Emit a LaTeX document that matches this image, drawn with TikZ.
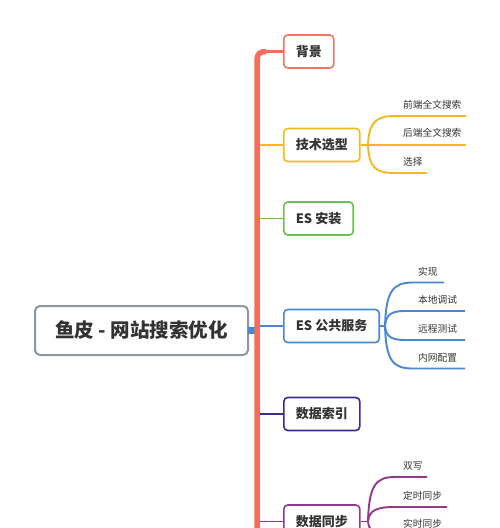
\documentclass[tikz,border=0pt]{standalone}
\usepackage{fontspec}
\setmainfont{Noto Sans CJK SC}
\definecolor{txt}{HTML}{333333}
\definecolor{trunkc}{HTML}{F46D5A}
\definecolor{cbg}{HTML}{F07565}
\definecolor{cjs}{HTML}{F5B823}
\definecolor{ces}{HTML}{6CC050}
\definecolor{cpub}{HTML}{4A87D2}
\definecolor{cidx}{HTML}{3A2E8C}
\definecolor{csync}{HTML}{8E3B8A}
\definecolor{rootc}{HTML}{8A96A3}
\tikzset{
  branchbox/.style={draw=#1, line width=1.6pt, rounded corners=4pt, fill=white,
    minimum height=33pt, inner xsep=12pt, inner ysep=0pt, anchor=west,
    font=\fontsize{13}{15}\selectfont\bfseries, text=txt},
  rootbox/.style={draw=rootc, line width=2pt, rounded corners=5pt, fill=white,
    minimum width=213pt, minimum height=49pt, inner sep=0pt,
    font=\fontsize{19.5}{23}\selectfont\bfseries, text=txt},
  leaf/.style={anchor=west, inner sep=0pt, font=\fontsize{9.7}{12}\selectfont, text=txt},
  conn/.style={draw=#1, line width=1.9pt},
}
\begin{document}
\begin{tikzpicture}[x=1pt,y=-1pt]
\useasboundingbox (0,0) rectangle (500,528);
\clip (0,0) rectangle (500,528);

% nodes
\node[rootbox] (root) at (141.5,330.5) {鱼皮 - 网站搜索优化};
\node[branchbox=cbg] (bg) at (283,51.5) {背景};
\node[branchbox=cjs] (js) at (283,145) {技术选型};
\node[branchbox=ces] (es) at (283,218.5) {ES 安装};
\node[branchbox=cpub] (pub) at (283,326) {ES 公共服务};
\node[branchbox=cidx] (idx) at (283,414) {数据索引};
\node[branchbox=csync] (sync) at (283,521.5) {数据同步};

% trunk coordinates
\coordinate (tbot) at (257,545);
\coordinate (ttop) at (257,60);
\coordinate (tcorner) at (266,51.5);
\coordinate (tjs) at (257,145);
\coordinate (tes) at (257,218.5);
\coordinate (tpub) at (257,326);
\coordinate (tidx) at (257,414);
\coordinate (tsync) at (257,521.5);

% branch connectors (under trunk)
\draw[conn=cjs] (tjs) -- (js.west);
\draw[conn=ces] (tes) -- (es.west);
\draw[conn=cpub] (tpub) -- (pub.west);
\draw[conn=cidx] (tidx) -- (idx.west);
\draw[conn=csync] (tsync) -- (sync.west);

% blue square at root
\coordinate (rsq) at (251,330);
\fill[cpub] (rsq) ++(-3.5,-3.5) rectangle ++(7,7);
\draw[conn=cpub] (root.east) -- (rsq);

% trunk
\draw[trunkc, line width=2.5pt] (tcorner) -- (bg.west);
\draw[trunkc, line width=5.5pt] (tbot) -- (ttop) .. controls (257,54) and (260,51.5) .. (tcorner);

% ---- 技术选型 children
\coordinate (fjs) at (368,145);
\draw[conn=cjs] (js.east) -- (fjs);
\coordinate (js1s) at (395,116); \coordinate (js1e) at (466,116);
\coordinate (js2e) at (466,145);
\coordinate (js3s) at (395,173); \coordinate (js3e) at (427,173);
\draw[conn=cjs] (fjs) .. controls (369,122) and (376,116) .. (js1s) -- (js1e);
\draw[conn=cjs] (fjs) -- (js2e);
\draw[conn=cjs] (fjs) .. controls (369,168) and (376,173) .. (js3s) -- (js3e);
\node[leaf] (js1) at (403,105) {前端全文搜索};
\node[leaf] (js2) at (403,133) {后端全文搜索};
\node[leaf] (js3) at (403,162) {选择};

% ---- ES 公共服务 children
\coordinate (fpub) at (385,326);
\draw[conn=cpub] (pub.east) -- (fpub);
\coordinate (p1s) at (413,282.5); \coordinate (p1e) at (444,282.5);
\coordinate (p2s) at (405,311); \coordinate (p2e) at (465,311);
\coordinate (p3s) at (405,340); \coordinate (p3e) at (465,340);
\coordinate (p4s) at (413,368.5); \coordinate (p4e) at (465,368.5);
\draw[conn=cpub] (fpub) .. controls (386,291) and (393,282.5) .. (p1s) -- (p1e);
\draw[conn=cpub] (fpub) .. controls (386,314) and (392,311) .. (p2s) -- (p2e);
\draw[conn=cpub] (fpub) .. controls (386,337) and (392,340) .. (p3s) -- (p3e);
\draw[conn=cpub] (fpub) .. controls (386,361) and (393,368.5) .. (p4s) -- (p4e);
\node[leaf] (p1) at (418,271.5) {实现};
\node[leaf] (p2) at (418,300) {本地调试};
\node[leaf] (p3) at (418,329) {远程测试};
\node[leaf] (p4) at (418,357.5) {内网配置};

% ---- 数据同步 children
\coordinate (fsync) at (368,521.5);
\draw[conn=csync] (sync.east) -- (fsync);
\coordinate (s1s) at (395,477); \coordinate (s1e) at (427,477);
\coordinate (s2s) at (395,507); \coordinate (s2e) at (447,507);
\coordinate (s3s) at (395,536); \coordinate (s3e) at (447,536);
\draw[conn=csync] (fsync) .. controls (369,485) and (376,477) .. (s1s) -- (s1e);
\draw[conn=csync] (fsync) .. controls (369,510) and (377,507) .. (s2s) -- (s2e);
\draw[conn=csync] (fsync) .. controls (369,533) and (377,536) .. (s3s) -- (s3e);
\node[leaf] (s1) at (403,466.5) {双写};
\node[leaf] (s2) at (403,495.5) {定时同步};
\node[leaf] (s3) at (403,524) {实时同步};
\end{tikzpicture}
\end{document}
